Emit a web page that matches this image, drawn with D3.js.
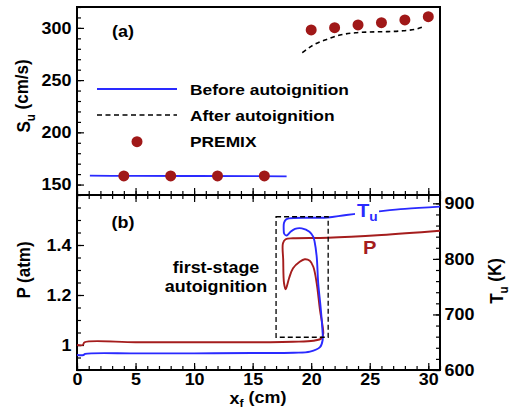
<!DOCTYPE html>
<html lang="en">
<head>
    <meta charset="UTF-8">
    <title>Su, P and Tu versus flame position</title>
    <script src="https://d3js.org/d3.v7.min.js"></script>
    <style>
        body { margin: 0; background: #fff; }
        svg { display: block; }
        text { font-family: "Liberation Sans", Arial, sans-serif; font-weight: bold; }
    </style>
</head>
<body>
    <div id="chart"></div>

    <script>
        // (a) flame speed
        const beforeX = [1.1, 5, 10, 15, 17.9];
        const beforeSu = [158.5, 158.3, 158.2, 158, 157.8];
        const afterX = [19.24, 20.18, 21.32, 22.46, 23.88, 25.02, 26.45, 27.87, 29.0, 29.57];
        const afterSu = [276.2, 283.6, 289, 293.2, 295.4, 296.1, 296.4, 297.3, 298.9, 301.1];
        const premixX = [4, 8, 12, 16, 20, 22, 24, 26, 28, 30];
        const premixSu = [158.3, 158.3, 158.3, 158.3, 298, 300.2, 302.8, 305, 307.6, 310.7];

        // (b) unburned temperature (traced in time order, so x goes back and forth)
        const tuX = [0, 0.55, 0.7, 5, 10, 15, 18.5, 19.9, 20.75, 20.98, 20.96, 20.8, 20.6, 20.47, 20.3,
                     20.17, 19.85, 19.2, 18.62, 18.2, 17.9, 17.7, 17.65, 17.68, 17.85, 18.1, 20, 21.42,
                     23, 26, 28, 31];
        const tuT = [627, 627, 629, 630, 630, 630.5, 631, 633, 641, 654, 672, 714, 756, 804, 830,
                     840, 849, 855, 854, 848, 842, 845, 855, 865, 871, 873, 874, 874.5,
                     879, 886, 890, 894];

        // (b) pressure
        const pX = [0, 0.5, 0.65, 5, 10, 16.5, 18.45, 20.18, 20.9, 21.03, 20.96, 20.75, 20.47, 20.18,
                    19.88, 19.45, 19.02, 18.45, 18.11, 17.82, 17.68, 17.61, 17.59, 17.82, 18.45, 21.42, 26, 31];
        const pAtm = [1.0, 1.0, 1.011, 1.011, 1.011, 1.011, 1.013, 1.017, 1.027, 1.047, 1.08, 1.14, 1.247, 1.313,
                      1.337, 1.343, 1.333, 1.307, 1.267, 1.223, 1.247, 1.34, 1.407, 1.423, 1.427, 1.429, 1.44, 1.457];

        // dashed box around first-stage autoignition
        const boxX = [17.0, 21.45];
        const boxP = [1.031, 1.513];

        const xTicks = [0, 5, 10, 15, 20, 25, 30];
        const suTicks = [150, 200, 250, 300];
        const pTicks = [1, 1.2, 1.4];
        const tTicks = [600, 700, 800, 900];

        const width = 516, height = 413;
        const SX = 1.12; // text in the figure is a bit wide
        const blue = "#2a2aff", red = "#a51d1d", dotColor = "#a01818";

        const svg = d3.select("#chart").append("svg")
            .attr("width", width)
            .attr("height", height);

        const x = d3.scaleLinear().domain([0, 31]).range([77, 440]);
        const ySu = d3.scaleLinear().domain([140, 320]).range([195, 7]);
        const yP = d3.scaleLinear().domain([0.9, 1.6]).range([370, 195]);
        const yT = d3.scaleLinear().domain([600, 915]).range([370, 195]);

        function styleAxis(g) {
            g.select(".domain").remove();
            g.selectAll("line").attr("stroke", "#000").attr("stroke-width", 1.2);
            g.selectAll("text")
                .attr("font-size", 16)
                .attr("font-weight", "bold")
                .attr("font-family", "Liberation Sans, Arial, sans-serif")
                .attr("fill", "#000")
                .attr("transform", `scale(${SX},1)`);
        }

        function addAxis(axis, tx, ty) {
            svg.append("g")
                .attr("transform", `translate(${tx},${ty})`)
                .call(axis)
                .call(styleAxis);
        }

        const minorX = d3.range(0, 32, 1);

        // top panel axes
        addAxis(d3.axisLeft(ySu).tickValues(suTicks).tickSize(-7).tickPadding(5), 77, 0);
        addAxis(d3.axisLeft(ySu).tickValues(d3.range(140, 321, 10)).tickSize(-4).tickFormat(""), 77, 0);
        addAxis(d3.axisBottom(x).tickValues(xTicks).tickSize(-7).tickFormat(""), 0, 195);
        addAxis(d3.axisBottom(x).tickValues(minorX).tickSize(-4).tickFormat(""), 0, 195);

        // bottom panel axes
        addAxis(d3.axisLeft(yP).tickValues(pTicks).tickSize(-7).tickPadding(5).tickFormat(d3.format("~g")), 77, 0);
        addAxis(d3.axisLeft(yP).tickValues(d3.range(0.9, 1.6, 0.05)).tickSize(-4).tickFormat(""), 77, 0);
        addAxis(d3.axisRight(yT).tickValues(tTicks).tickSize(-7).tickPadding(4), 440, 0);
        addAxis(d3.axisRight(yT).tickValues(d3.range(600, 916, 20)).tickSize(-4).tickFormat(""), 440, 0);
        addAxis(d3.axisBottom(x).tickValues(xTicks).tickSize(-7).tickPadding(4), 0, 370);
        addAxis(d3.axisBottom(x).tickValues(minorX).tickSize(-4).tickFormat(""), 0, 370);
        addAxis(d3.axisTop(x).tickValues(xTicks).tickSize(-7).tickFormat(""), 0, 195);
        addAxis(d3.axisTop(x).tickValues(minorX).tickSize(-4).tickFormat(""), 0, 195);

        // frames
        svg.append("rect")
            .attr("x", 77).attr("y", 7).attr("width", 363).attr("height", 188)
            .attr("fill", "none").attr("stroke", "#000").attr("stroke-width", 2);
        svg.append("rect")
            .attr("x", 77).attr("y", 195).attr("width", 363).attr("height", 175)
            .attr("fill", "none").attr("stroke", "#000").attr("stroke-width", 2);

        // ---- panel (a)
        const lineSu = d3.line().x(d => x(d[0])).y(d => ySu(d[1])).curve(d3.curveMonotoneX);

        svg.append("path")
            .datum(d3.zip(beforeX, beforeSu))
            .attr("d", lineSu)
            .attr("fill", "none").attr("stroke", blue).attr("stroke-width", 1.8);

        svg.append("path")
            .datum(d3.zip(afterX, afterSu))
            .attr("d", lineSu)
            .attr("fill", "none").attr("stroke", "#000").attr("stroke-width", 1.6)
            .attr("stroke-dasharray", "4.5,3.5");

        svg.append("g")
            .selectAll("circle")
            .data(d3.zip(premixX, premixSu))
            .join("circle")
            .attr("cx", d => x(d[0]))
            .attr("cy", d => ySu(d[1]))
            .attr("r", 5.5)
            .attr("fill", dotColor);

        // legend
        const legend = svg.append("g");
        legend.append("line").attr("x1", 97).attr("x2", 177).attr("y1", 89).attr("y2", 89)
            .attr("stroke", blue).attr("stroke-width", 1.8);
        legend.append("line").attr("x1", 97).attr("x2", 177).attr("y1", 115).attr("y2", 115)
            .attr("stroke", "#000").attr("stroke-width", 1.6).attr("stroke-dasharray", "5,3.5");
        legend.append("circle").attr("cx", 137).attr("cy", 141.7).attr("r", 5.5).attr("fill", dotColor);

        function label(txt, tx, ty, opts = {}) {
            const rot = opts.rotate ? " rotate(-90)" : "";
            const shift = opts.shift || 0.35;
            const t = svg.append("text")
                .attr("transform", `translate(${tx},${ty}) scale(${SX},1)${rot}`)
                .attr("font-size", opts.size || 15.5)
                .attr("fill", opts.fill || "#000")
                .attr("text-anchor", opts.anchor || "start");
            if (opts.sub) {
                t.append("tspan").text(txt);
                t.append("tspan").text(opts.sub)
                    .attr("font-size", (opts.size || 15.5) * 0.68)
                    .attr("dy", shift + "em");
                if (opts.after) {
                    t.append("tspan").text(opts.after).attr("dy", -shift + "em");
                }
            } else {
                t.text(txt);
            }
            return t;
        }

        label("Before autoignition", 190, 94.5);
        label("After autoignition", 190, 120.5);
        label("PREMIX", 190, 146.7);
        label("(a)", 123, 37, { anchor: "middle", size: 16 });

        // ---- panel (b)
        const lineT = d3.line().x(d => x(d[0])).y(d => yT(d[1])).curve(d3.curveCatmullRom.alpha(0.5));
        const lineP = d3.line().x(d => x(d[0])).y(d => yP(d[1])).curve(d3.curveCatmullRom.alpha(0.5));

        svg.append("path")
            .datum(d3.zip(pX, pAtm))
            .attr("d", lineP)
            .attr("fill", "none").attr("stroke", red).attr("stroke-width", 1.9);

        svg.append("path")
            .datum(d3.zip(tuX, tuT))
            .attr("d", lineT)
            .attr("fill", "none").attr("stroke", blue).attr("stroke-width", 1.9);

        svg.append("rect")
            .attr("x", x(boxX[0]))
            .attr("y", yP(boxP[1]))
            .attr("width", x(boxX[1]) - x(boxX[0]))
            .attr("height", yP(boxP[0]) - yP(boxP[1]))
            .attr("fill", "none").attr("stroke", "#000").attr("stroke-width", 1.3)
            .attr("stroke-dasharray", "5,3");

        // white patch behind the Tu curve label
        svg.append("rect")
            .attr("x", 355).attr("y", 202).attr("width", 24).attr("height", 24)
            .attr("fill", "#fff");
        label("T", 357, 217, { size: 18, fill: blue, sub: "u" });
        label("P", 363, 254, { size: 18, fill: red });

        label("(b)", 123, 227.5, { anchor: "middle", size: 16 });
        label("first-stage", 216, 273, { anchor: "middle", size: 16 });
        label("autoignition", 216, 292, { anchor: "middle", size: 16 });

        // axis titles
        label("S", 30, 96, { rotate: true, anchor: "middle", size: 17, sub: "u", after: " (cm/s)" });
        label("P (atm)", 30, 270, { rotate: true, anchor: "middle", size: 17 });
        label("T", 503, 281, { rotate: true, anchor: "middle", size: 17, sub: "u", after: " (K)" });
        label("x", 258, 404, { anchor: "middle", size: 16, sub: "f", after: " (cm)", shift: 0.28 });
    </script>
</body>
</html>
